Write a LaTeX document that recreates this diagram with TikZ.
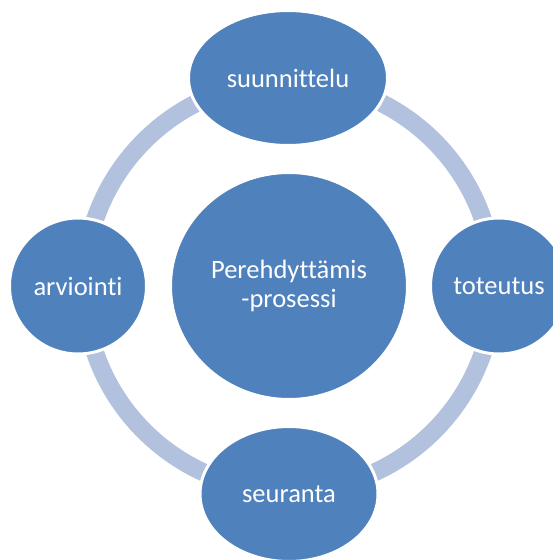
\documentclass[tikz,border=0pt]{standalone}
\usepackage{fontspec}
\setmainfont{Carlito}[Ligatures=NoCommon]
\usepackage{tikz}
\usetikzlibrary{shapes.geometric}
\usepackage{xcolor}
\definecolor{phase}{RGB}{79,129,189}
\definecolor{ring}{RGB}{178,194,222}

\begin{document}
\begin{tikzpicture}[x=1pt,y=-1pt,
  phase/.style={ellipse, fill=phase, draw=white, line width=3pt, inner sep=0pt,
    text=white, font=\fontsize{26.5}{28.5}\selectfont, align=center}]
\useasboundingbox (0,0) rectangle (553,560);
\draw [ring, line width=18pt] (289,286) circle [radius=205];
\node [phase, minimum width=237pt, minimum height=227pt] (pro) at (289,286) {Perehdyttämis\\-prosessi};
\node [phase, minimum width=199pt, minimum height=135pt] (sun) at (288,78) {suunnittelu};
\node [phase, minimum width=137pt, minimum height=136pt] (tot) at (499,286) {toteutus};
\node [phase, minimum width=178pt, minimum height=135pt] (seu) at (289,494) {seuranta};
\node [phase, minimum width=137pt, minimum height=136pt] (arv) at (78,286) {arviointi};
\end{tikzpicture}
\end{document}
